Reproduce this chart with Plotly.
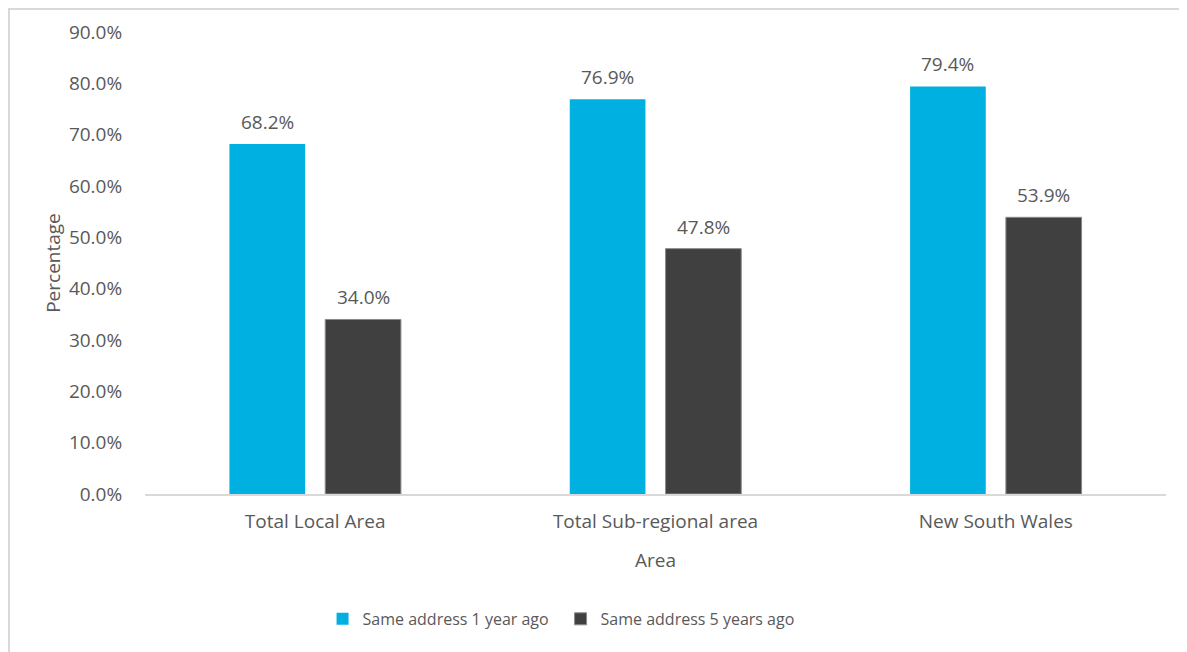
import plotly.graph_objects as go

categories = ["Total Local Area", "Total Sub-regional area", "New South Wales"]
same_1yr = [68.2, 76.9, 79.4]
same_5yr = [34.0, 47.8, 53.9]
series_names = ["Same address 1 year ago", "Same address 5 years ago"]
tick_vals = [0, 10, 20, 30, 40, 50, 60, 70, 80, 90]
tick_text = [f"{v:.1f}%" for v in tick_vals]

FONT = "Open Sans"
GRAY = "#595959"

W, H = 1187, 652
ML, MR, MT, MB = 137, 29, 24, 166
BARGAP, GROUPGAP = 0.437, 0.21

fig = go.Figure()
fig.add_trace(go.Bar(
    x=categories, y=same_1yr, name=series_names[0],
    marker=dict(color="#00B0E0", line=dict(width=0)),
))
fig.add_trace(go.Bar(
    x=categories, y=same_5yr, name=series_names[1],
    marker=dict(color="#404040", line=dict(width=1, color="#8a8a8a")),
))

# value labels above the bars (placed on the library's data scale)
plot_w = W - ML - MR
cat_px = plot_w / len(categories)
slot_px = cat_px * (1 - BARGAP) / 2
annotations = []
for k, vals in enumerate([same_1yr, same_5yr]):
    shift = (k - 0.5) * slot_px
    for c, v in zip(categories, vals):
        annotations.append(dict(
            x=c, y=v, xref="x", yref="y", text=f"{v:.1f}%", showarrow=False,
            xshift=shift, yshift=7, yanchor="bottom",
            font=dict(family=FONT, size=19, color=GRAY),
        ))

fig.update_layout(
    width=W, height=H,
    margin=dict(l=ML, r=MR, t=MT, b=MB),
    paper_bgcolor="white", plot_bgcolor="white",
    barmode="group", bargap=BARGAP, bargroupgap=GROUPGAP,
    font=dict(family=FONT, size=19, color=GRAY),
    showlegend=True,
    legend=dict(orientation="h", xref="container", x=0.265, xanchor="left",
                yref="container", y=0.063, yanchor="middle",
                font=dict(family=FONT, size=16, color=GRAY),
                itemwidth=30, entrywidth=193, entrywidthmode="pixels",
                traceorder="normal"),
    xaxis=dict(
        showline=True, linecolor="#d9d9d9", linewidth=2,
        ticks="outside", ticklen=9, tickcolor="rgba(0,0,0,0)",
        showgrid=False, tickfont=dict(size=19, color=GRAY),
        title=dict(text="Area", standoff=21, font=dict(size=19, color=GRAY)),
        automargin=False,
    ),
    yaxis=dict(
        range=[0, 90], tickvals=tick_vals, ticktext=tick_text,
        showgrid=False, zeroline=False, showline=False,
        ticks="outside", ticklen=18, tickcolor="rgba(0,0,0,0)",
        tickfont=dict(size=19, color=GRAY),
        title=dict(text="Percentage", standoff=3, font=dict(size=19, color=GRAY)),
        automargin=False,
    ),
    annotations=annotations,
    shapes=[dict(type="rect", xref="paper", yref="paper",
                 x0=(1 - ML) / plot_w, y0=-0.6, x1=1.2,
                 y1=1 + (MT - 1) / (H - MT - MB),
                 line=dict(color="#d9d9d9", width=2), fillcolor="rgba(0,0,0,0)",
                 layer="below")],
)

fig.write_html("out.html")
